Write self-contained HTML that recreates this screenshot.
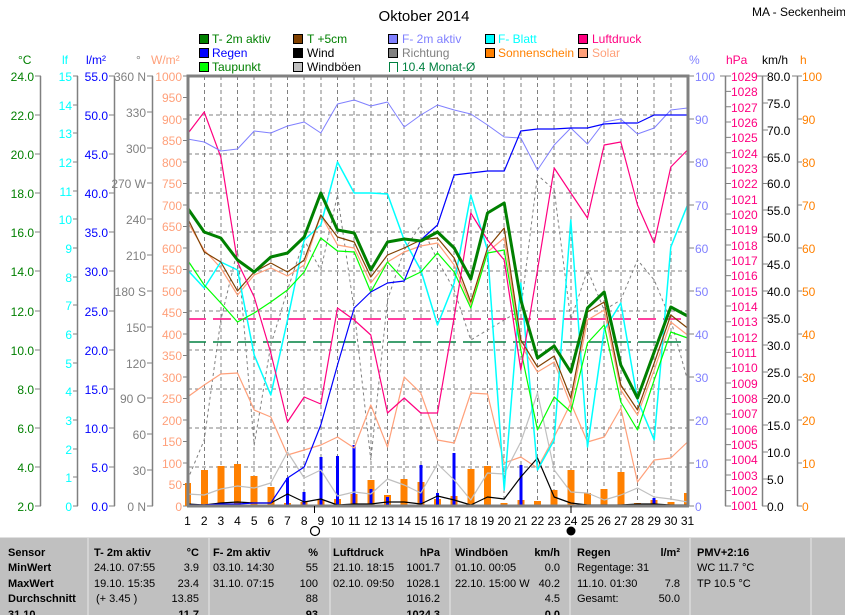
<!DOCTYPE html>
<html><head><meta charset="utf-8">
<style>
html,body{margin:0;padding:0;background:#fff;}
svg{display:block;font-family:"Liberation Sans",sans-serif;}
.tb{font-weight:bold;}
</style></head><body>
<svg width="845" height="615" viewBox="0 0 845 615" xmlns="http://www.w3.org/2000/svg">
<rect width="845" height="615" fill="#fff"/>
<text x="424" y="21" font-size="15" text-anchor="middle">Oktober 2014</text>
<text x="752" y="16" font-size="12">MA - Seckenheim</text>

<!-- legend -->
<g font-size="12">
<rect x="199.5" y="34.5" width="9" height="9" fill="#008000" stroke="#000"/><text x="212" y="43" fill="#008000">T- 2m aktiv</text>
<rect x="199.5" y="48.5" width="9" height="9" fill="#0000ff" stroke="#000"/><text x="212" y="57" fill="#0000ff">Regen</text>
<rect x="199.5" y="62.5" width="9" height="9" fill="#00ff00" stroke="#000"/><text x="212" y="71" fill="#008000">Taupunkt</text>
<rect x="293.5" y="34.5" width="9" height="9" fill="#804000" stroke="#000"/><text x="307" y="43" fill="#008000">T +5cm</text>
<rect x="293.5" y="48.5" width="9" height="9" fill="#000" stroke="#000"/><text x="307" y="57">Wind</text>
<rect x="293.5" y="62.5" width="9" height="9" fill="#c0c0c0" stroke="#000"/><text x="307" y="71">Windböen</text>
<rect x="388.5" y="34.5" width="9" height="9" fill="#8080ff" stroke="#000"/><text x="402" y="43" fill="#8080ff">F- 2m aktiv</text>
<rect x="388.5" y="48.5" width="9" height="9" fill="#808080" stroke="#000"/><text x="402" y="57" fill="#808080">Richtung</text>
<path d="M389.5 72V62.5H397.5V72" fill="none" stroke="#008040"/><text x="402" y="71" fill="#008040">10.4 Monat-Ø</text>
<rect x="485.5" y="34.5" width="9" height="9" fill="#00ffff" stroke="#000"/><text x="498" y="43" fill="#00ffff">F- Blatt</text>
<rect x="485.5" y="48.5" width="9" height="9" fill="#ff8000" stroke="#000"/><text x="498" y="57" fill="#ff8000">Sonnenschein</text>
<rect x="578.5" y="34.5" width="9" height="9" fill="#ff0080" stroke="#000"/><text x="592" y="43" fill="#ff0080">Luftdruck</text>
<rect x="578.5" y="48.5" width="9" height="9" fill="#ffa07a" stroke="#000"/><text x="592" y="57" fill="#ffa07a">Solar</text>
</g>

<!-- axis titles -->
<g font-size="12">
<text x="18" y="64" fill="#008000">°C</text>
<text x="62" y="64" fill="#00ffff">lf</text>
<text x="86" y="64" fill="#0000ff">l/m²</text>
<text x="136" y="64" fill="#808080">°</text>
<text x="151" y="64" fill="#ffa07a">W/m²</text>
<text x="689" y="64" fill="#8080ff">%</text>
<text x="726" y="64" fill="#ff0080">hPa</text>
<text x="762" y="64">km/h</text>
<text x="800" y="64" fill="#ff8000">h</text>
</g>

<!-- axis lines -->
<g stroke="#808080" stroke-width="1.5" fill="none">
<path d="M40.5 76V506M77.5 76V506M114.5 76V506M152.5 76V506M725.5 76V506M762.5 76V506M797.5 76V506"/>
</g>

<g font-size="12">
<g fill="#008000" text-anchor="end">
<text x="34" y="81">24.0</text><text x="34" y="120">22.0</text><text x="34" y="159">20.0</text><text x="34" y="198">18.0</text><text x="34" y="237">16.0</text><text x="34" y="276">14.0</text><text x="34" y="316">12.0</text><text x="34" y="355">10.0</text><text x="34" y="394">8.0</text><text x="34" y="433">6.0</text><text x="34" y="472">4.0</text><text x="34" y="511">2.0</text>
</g>
<path stroke="#808080" d="M35 76H41M35 115H41M35 154H41M35 193H41M35 232H41M35 271H41M35 311H41M35 350H41M35 389H41M35 428H41M35 467H41M35 506H41"/>
<g fill="#00ffff" text-anchor="end">
<text x="72" y="81">15</text><text x="72" y="110">14</text><text x="72" y="138">13</text><text x="72" y="167">12</text><text x="72" y="196">11</text><text x="72" y="224">10</text><text x="72" y="253">9</text><text x="72" y="282">8</text><text x="72" y="310">7</text><text x="72" y="339">6</text><text x="72" y="368">5</text><text x="72" y="396">4</text><text x="72" y="425">3</text><text x="72" y="454">2</text><text x="72" y="482">1</text><text x="72" y="511">0</text>
</g>
<path stroke="#808080" d="M73 76H78M73 105H78M73 133H78M73 162H78M73 191H78M73 219H78M73 248H78M73 277H78M73 305H78M73 334H78M73 363H78M73 391H78M73 420H78M73 449H78M73 477H78M73 506H78"/>
<g fill="#0000ff" text-anchor="end">
<text x="108" y="81">55.0</text><text x="108" y="120">50.0</text><text x="108" y="159">45.0</text><text x="108" y="198">40.0</text><text x="108" y="237">35.0</text><text x="108" y="276">30.0</text><text x="108" y="316">25.0</text><text x="108" y="355">20.0</text><text x="108" y="394">15.0</text><text x="108" y="433">10.0</text><text x="108" y="472">5.0</text><text x="108" y="511">0.0</text>
</g>
<path stroke="#808080" d="M109 76H115M109 115H115M109 154H115M109 193H115M109 232H115M109 271H115M109 311H115M109 350H115M109 389H115M109 428H115M109 467H115M109 506H115"/>
<g fill="#808080" text-anchor="end">
<text x="146" y="81">360 N</text><text x="146" y="117">330</text><text x="146" y="153">300</text><text x="146" y="188">270 W</text><text x="146" y="224">240</text><text x="146" y="260">210</text><text x="146" y="296">180 S</text><text x="146" y="332">150</text><text x="146" y="368">120</text><text x="146" y="403">90 O</text><text x="146" y="439">60</text><text x="146" y="475">30</text><text x="146" y="511">0 N</text>
</g>
<path stroke="#808080" d="M147 76H153M147 112H153M147 148H153M147 183H153M147 219H153M147 255H153M147 291H153M147 327H153M147 363H153M147 398H153M147 434H153M147 470H153M147 506H153"/>
<g fill="#ffa07a" text-anchor="end">
<text x="182" y="81">1000</text><text x="182" y="102">950</text><text x="182" y="124">900</text><text x="182" y="145">850</text><text x="182" y="167">800</text><text x="182" y="188">750</text><text x="182" y="210">700</text><text x="182" y="231">650</text><text x="182" y="253">600</text><text x="182" y="274">550</text><text x="182" y="296">500</text><text x="182" y="317">450</text><text x="182" y="339">400</text><text x="182" y="360">350</text><text x="182" y="382">300</text><text x="182" y="403">250</text><text x="182" y="425">200</text><text x="182" y="446">150</text><text x="182" y="468">100</text><text x="182" y="489">50</text><text x="182" y="511">0</text>
</g>
<path stroke="#808080" d="M183 76H188M183 97.5H188M183 119H188M183 140.5H188M183 162H188M183 183.5H188M183 205H188M183 226.5H188M183 248H188M183 269.5H188M183 291H188M183 312.5H188M183 334H188M183 355.5H188M183 377H188M183 398.5H188M183 420H188M183 441.5H188M183 463H188M183 484.5H188M183 506H188"/>
<g fill="#8080ff">
<text x="695" y="81">100</text><text x="695" y="124">90</text><text x="695" y="167">80</text><text x="695" y="210">70</text><text x="695" y="253">60</text><text x="695" y="296">50</text><text x="695" y="339">40</text><text x="695" y="382">30</text><text x="695" y="425">20</text><text x="695" y="468">10</text><text x="695" y="511">0</text>
</g>
<path stroke="#808080" d="M688 76H694M688 119H694M688 162H694M688 205H694M688 248H694M688 291H694M688 334H694M688 377H694M688 420H694M688 463H694M688 506H694"/>
<g fill="#ff0080">
<text x="731" y="81">1029</text><text x="731" y="96">1028</text><text x="731" y="112">1027</text><text x="731" y="127">1026</text><text x="731" y="142">1025</text><text x="731" y="158">1024</text><text x="731" y="173">1023</text><text x="731" y="188">1022</text><text x="731" y="204">1021</text><text x="731" y="219">1020</text><text x="731" y="234">1019</text><text x="731" y="250">1018</text><text x="731" y="265">1017</text><text x="731" y="280">1016</text><text x="731" y="296">1015</text><text x="731" y="311">1014</text><text x="731" y="326">1013</text><text x="731" y="342">1012</text><text x="731" y="357">1011</text><text x="731" y="372">1010</text><text x="731" y="388">1009</text><text x="731" y="403">1008</text><text x="731" y="418">1007</text><text x="731" y="434">1006</text><text x="731" y="449">1005</text><text x="731" y="464">1004</text><text x="731" y="480">1003</text><text x="731" y="495">1002</text><text x="731" y="510">1001</text>
</g>
<g fill="#000">
<text x="767" y="81">80.0</text><text x="767" y="108">75.0</text><text x="767" y="135">70.0</text><text x="767" y="162">65.0</text><text x="767" y="188">60.0</text><text x="767" y="215">55.0</text><text x="767" y="242">50.0</text><text x="767" y="269">45.0</text><text x="767" y="296">40.0</text><text x="767" y="323">35.0</text><text x="767" y="350">30.0</text><text x="767" y="377">25.0</text><text x="767" y="403">20.0</text><text x="767" y="430">15.0</text><text x="767" y="457">10.0</text><text x="767" y="484">5.0</text><text x="767" y="511">0.0</text>
</g>
<g fill="#ff8000">
<text x="802" y="81">100</text><text x="802" y="124">90</text><text x="802" y="167">80</text><text x="802" y="210">70</text><text x="802" y="253">60</text><text x="802" y="296">50</text><text x="802" y="339">40</text><text x="802" y="382">30</text><text x="802" y="425">20</text><text x="802" y="468">10</text><text x="802" y="511">0</text>
</g>
</g>
<path stroke="#808080" d="M720 76H731M725 91.4H731M725 106.7H731M725 122H731M725 137.4H731M725 152.8H731M725 168H731M725 183.5H731M725 199H731M725 214H731M725 229.6H731M725 245H731M725 260H731M725 275.6H731M725 291H731M725 306H731M725 321.7H731M725 337H731M725 352.4H731M725 368H731M725 383H731M725 398.5H731M725 414H731M725 429H731M725 444.6H731M725 460H731M725 475H731M725 490.6H731M725 506H731M757 76H768M762 103H768M762 130H768M762 157H768M762 183.5H768M762 210H768M762 237H768M762 264H768M762 291H768M762 318H768M762 345H768M762 372H768M762 398.5H768M762 425H768M762 452H768M762 479H768M762 506H768M792 76H802M797 119H802M797 162H802M797 205H802M797 248H802M797 291H802M797 334H802M797 377H802M797 420H802M797 463H802M797 506H802"/>

<!-- grid -->
<g stroke="#808080" stroke-dasharray="4,3" stroke-width="1">
<path d="M188 115H688M188 154H688M188 193H688M188 232H688M188 271H688M188 311H688M188 350H688M188 389H688M188 428H688M188 467H688"/>
<path d="M204.5 76V506M221 76V506M237.5 76V506M254 76V506M271 76V506M287.5 76V506M304 76V506M321 76V506M337.5 76V506M354 76V506M371 76V506M387.5 76V506M404 76V506M421 76V506M437.5 76V506M454 76V506M471 76V506M487.5 76V506M504 76V506M521 76V506M537.5 76V506M554 76V506M571 76V506M587.5 76V506M604 76V506M621 76V506M637.5 76V506M654 76V506M671 76V506"/>
</g>

<path d="M188 319H688" stroke="#ff0080" stroke-width="1.5" stroke-dasharray="18,7"/>
<path d="M188 342H688" stroke="#008040" stroke-width="1.5" stroke-dasharray="18,7"/>

<g fill="#ff8000">
<rect x="185" y="483" width="6" height="23"/><rect x="201" y="470" width="7" height="36"/><rect x="217.5" y="466" width="7" height="40"/><rect x="234" y="464" width="7" height="42"/><rect x="250.5" y="476" width="7" height="30"/><rect x="267.5" y="487" width="7" height="19"/><rect x="284" y="503" width="7" height="3"/><rect x="300.5" y="502" width="7" height="4"/><rect x="317.5" y="500" width="7" height="6"/><rect x="334" y="499" width="7" height="7"/><rect x="350.5" y="494" width="7" height="12"/><rect x="367.5" y="480" width="7" height="26"/><rect x="384" y="495" width="7" height="11"/><rect x="400.5" y="479" width="7" height="27"/><rect x="417.5" y="482" width="7" height="24"/><rect x="434" y="499" width="7" height="7"/><rect x="450.5" y="496" width="7" height="10"/><rect x="467.5" y="469" width="7" height="37"/><rect x="484" y="466" width="7" height="40"/><rect x="500.5" y="503" width="7" height="3"/><rect x="517.5" y="500" width="7" height="6"/><rect x="534" y="501" width="7" height="5"/><rect x="550.5" y="490" width="7" height="16"/><rect x="567.5" y="470" width="7" height="36"/><rect x="584" y="493" width="7" height="13"/><rect x="600.5" y="489" width="7" height="17"/><rect x="617.5" y="472" width="7" height="34"/><rect x="634" y="503" width="7" height="3"/><rect x="650.5" y="500" width="7" height="6"/><rect x="667.5" y="502" width="7" height="4"/><rect x="684" y="493" width="5" height="13"/>
</g>
<g fill="#0000ff">
<rect x="286" y="478" width="3" height="28"/><rect x="302.5" y="492" width="3" height="14"/><rect x="319.5" y="457" width="3" height="49"/><rect x="336" y="456" width="3" height="50"/><rect x="352.5" y="445" width="3" height="61"/><rect x="369.5" y="489" width="3" height="17"/><rect x="386" y="497" width="3" height="9"/><rect x="419.5" y="465" width="3" height="41"/><rect x="436" y="493" width="3" height="13"/><rect x="452.5" y="453" width="3" height="53"/><rect x="519.5" y="465" width="3" height="41"/><rect x="652.5" y="498" width="3" height="8"/>
</g>

<g fill="none" stroke-linejoin="round">
<polyline stroke="#808080" stroke-dasharray="3,3" points="187.5,480 204.2,440 220.8,320 237.5,250 254.2,445 270.8,345 287.5,290 304.2,240 320.8,270 337.5,195 354.2,310 370.8,460 387.5,300 404.2,250 420.8,225 437.5,260 454.2,290 470.8,340 487.5,330 504.2,320 520.8,310 537.5,175 554.2,190 570.8,320 587.5,270 604.2,310 620.8,300 637.5,260 654.2,280 670.8,320 687.5,380"/>
<polyline stroke="#ffa07a" stroke-width="1.2" points="187.5,397 204.2,385 220.8,374 237.5,373 254.2,410 270.8,417 287.5,455 304.2,450 320.8,445 337.5,437 354.2,448 370.8,405 387.5,447 404.2,377 420.8,393 437.5,440 454.2,443 470.8,393 487.5,394 504.2,463 520.8,457 537.5,468 554.2,437 570.8,403 587.5,442 604.2,437 620.8,408 637.5,482 654.2,460 670.8,458 687.5,442"/>
<polyline stroke="#ffa07a" stroke-width="1.2" points="187.5,222 204.2,250 220.8,268 237.5,295 254.2,275 270.8,268 287.5,276 304.2,265 320.8,215 337.5,245 354.2,248 370.8,283 387.5,262 404.2,252 420.8,246 437.5,243 454.2,265 470.8,305 487.5,252 504.2,238 520.8,345 537.5,372 554.2,362 570.8,405 587.5,320 604.2,310 620.8,390 637.5,415 654.2,370 670.8,322 687.5,335"/>
<polyline stroke="#c0c0c0" stroke-width="1.2" points="187.5,494 204.2,495 220.8,489 237.5,486 254.2,488 270.8,483 287.5,452 304.2,478 320.8,470 337.5,496 354.2,492 370.8,494 387.5,479 404.2,485 420.8,493 437.5,464 454.2,480 470.8,500 487.5,473 504.2,474 520.8,442 537.5,393 554.2,470 570.8,492 587.5,493 604.2,500 620.8,495 637.5,488 654.2,497 670.8,499 687.5,502"/>
<polyline stroke="#000" stroke-width="1.2" points="187.5,504 204.2,505 220.8,503 237.5,502 254.2,503 270.8,503 287.5,494 304.2,502 320.8,499 337.5,505 354.2,504 370.8,504 387.5,502 404.2,502 420.8,504 437.5,496 454.2,500 470.8,505 487.5,497 504.2,499 520.8,477 537.5,458 554.2,497 570.8,503 587.5,505 604.2,505 620.8,505 637.5,504 654.2,504 670.8,505 687.5,505"/>
<polyline stroke="#00ffff" stroke-width="1.5" points="187.5,270 204.2,288 220.8,262 237.5,270 254.2,355 270.8,395 287.5,320 304.2,240 320.8,225 337.5,162 354.2,193 370.8,193 387.5,194 404.2,240 420.8,270 437.5,325 454.2,283 470.8,195 487.5,250 504.2,490 520.8,283 537.5,470 554.2,440 570.8,220 587.5,447 604.2,330 620.8,303 637.5,400 654.2,440 670.8,247 687.5,205"/>
<polyline stroke="#00ff00" stroke-width="1.2" points="187.5,260 204.2,285 220.8,303 237.5,322 254.2,313 270.8,302 287.5,290 304.2,272 320.8,238 337.5,251 354.2,252 370.8,292 387.5,262 404.2,280 420.8,272 437.5,253 454.2,272 470.8,308 487.5,253 504.2,250 520.8,350 537.5,430 554.2,397 570.8,412 587.5,343 604.2,325 620.8,402 637.5,430 654.2,380 670.8,332 687.5,338"/>
<polyline stroke="#804000" stroke-width="1.2" points="187.5,218 204.2,252 220.8,262 237.5,291 254.2,272 270.8,263 287.5,272 304.2,260 320.8,215 337.5,237 354.2,242 370.8,277 387.5,255 404.2,248 420.8,240 437.5,238 454.2,258 470.8,302 487.5,248 504.2,228 520.8,340 537.5,367 554.2,356 570.8,398 587.5,312 604.2,302 620.8,385 637.5,410 654.2,363 670.8,315 687.5,328"/>
<polyline stroke="#ff0080" stroke-width="1.2" points="187.5,134 204.2,112 220.8,157 237.5,262 254.2,297 270.8,353 287.5,422 304.2,397 320.8,404 337.5,308 354.2,320 370.8,335 387.5,413 404.2,398 420.8,413 437.5,413 454.2,317 470.8,213 487.5,240 504.2,260 520.8,370 537.5,270 554.2,168 570.8,193 587.5,218 604.2,145 620.8,142 637.5,205 654.2,243 670.8,167 687.5,150"/>
<polyline stroke="#8080ff" stroke-width="1" points="187.5,139 204.2,142 220.8,151 237.5,149 254.2,131 270.8,133 287.5,126 304.2,122 320.8,133 337.5,104 354.2,100 370.8,106 387.5,102 404.2,127 420.8,115 437.5,105 454.2,110 470.8,114 487.5,125 504.2,137 520.8,138 537.5,170 554.2,145 570.8,128 587.5,144 604.2,122 620.8,119 637.5,134 654.2,128 670.8,110 687.5,108"/>
<polyline stroke="#0000ff" stroke-width="1.2" points="187.5,505 204.2,505 220.8,504 237.5,504 254.2,503 270.8,503 287.5,478 304.2,467 320.8,425 337.5,365 354.2,308 370.8,292 387.5,283 404.2,281 420.8,240 437.5,225 454.2,175 470.8,173 487.5,171 504.2,171 520.8,131 537.5,129 554.2,129 570.8,128 587.5,128 604.2,124 620.8,123 637.5,123 654.2,115 670.8,115 687.5,115"/>
<polyline stroke="#008000" stroke-width="3" points="187.5,208 204.2,232 220.8,238 237.5,260 254.2,272 270.8,257 287.5,253 304.2,237 320.8,193 337.5,230 354.2,233 370.8,270 387.5,242 404.2,239 420.8,241 437.5,232 454.2,248 470.8,279 487.5,213 504.2,203 520.8,300 537.5,358 554.2,346 570.8,372 587.5,308 604.2,292 620.8,365 637.5,398 654.2,352 670.8,307 687.5,316"/>
</g>

<path d="M188 506V76H688V506" fill="none" stroke="#808080" stroke-width="3"/>
<path d="M187 506H689" stroke="#808080" stroke-width="3"/>

<g font-size="12" text-anchor="middle">
<text x="187.5" y="525">1</text><text x="204.2" y="525">2</text><text x="220.8" y="525">3</text><text x="237.5" y="525">4</text><text x="254.2" y="525">5</text><text x="270.8" y="525">6</text><text x="287.5" y="525">7</text><text x="304.2" y="525">8</text><text x="320.8" y="525">9</text><text x="337.5" y="525">10</text><text x="354.2" y="525">11</text><text x="370.8" y="525">12</text><text x="387.5" y="525">13</text><text x="404.2" y="525">14</text><text x="420.8" y="525">15</text><text x="437.5" y="525">16</text><text x="454.2" y="525">17</text><text x="470.8" y="525">18</text><text x="487.5" y="525">19</text><text x="504.2" y="525">20</text><text x="520.8" y="525">21</text><text x="537.5" y="525">22</text><text x="554.2" y="525">23</text><text x="570.8" y="525">24</text><text x="587.5" y="525">25</text><text x="604.2" y="525">26</text><text x="620.8" y="525">27</text><text x="637.5" y="525">28</text><text x="654.2" y="525">29</text><text x="670.8" y="525">30</text><text x="687.5" y="525">31</text>
</g>
<path d="M314.5 506V513M571 506V513" stroke="#000"/>
<circle cx="315" cy="531" r="4.5" fill="#fff" stroke="#000" stroke-width="1.2"/>
<circle cx="571" cy="531" r="4.5" fill="#000"/>

<rect x="0" y="537" width="845" height="78" fill="#c0c0c0"/>
<path d="M0 537.5H845" stroke="#e0e0e0"/>
<path d="M88 538V615M209 538V615M330 538V615M450 538V615M570 538V615M690 538V615M811 538V615" stroke="#e8e8e8"/>
<g font-size="11">
<text class="tb" x="8" y="556">Sensor</text><text class="tb" x="8" y="571">MinWert</text><text class="tb" x="8" y="587">MaxWert</text><text class="tb" x="8" y="602">Durchschnitt</text><text class="tb" x="8" y="618">31.10.</text>
<text class="tb" x="94" y="556">T- 2m aktiv</text><text class="tb" x="199" y="556" text-anchor="end">°C</text>
<text x="94" y="571">24.10.  07:55</text><text x="199" y="571" text-anchor="end">3.9</text>
<text x="94" y="587">19.10.  15:35</text><text x="199" y="587" text-anchor="end">23.4</text>
<text x="96" y="602">(+ 3.45 )</text><text x="199" y="602" text-anchor="end">13.85</text>
<text class="tb" x="199" y="618" text-anchor="end">11.7</text>
<text class="tb" x="213" y="556">F- 2m aktiv</text><text class="tb" x="318" y="556" text-anchor="end">%</text>
<text x="213" y="571">03.10.  14:30</text><text x="318" y="571" text-anchor="end">55</text>
<text x="213" y="587">31.10.  07:15</text><text x="318" y="587" text-anchor="end">100</text>
<text x="318" y="602" text-anchor="end">88</text><text class="tb" x="318" y="618" text-anchor="end">93</text>
<text class="tb" x="333" y="556">Luftdruck</text><text class="tb" x="440" y="556" text-anchor="end">hPa</text>
<text x="333" y="571">21.10.  18:15</text><text x="440" y="571" text-anchor="end">1001.7</text>
<text x="333" y="587">02.10.  09:50</text><text x="440" y="587" text-anchor="end">1028.1</text>
<text x="440" y="602" text-anchor="end">1016.2</text><text class="tb" x="440" y="618" text-anchor="end">1024.3</text>
<text class="tb" x="455" y="556">Windböen</text><text class="tb" x="560" y="556" text-anchor="end">km/h</text>
<text x="455" y="571">01.10.  00:05</text><text x="560" y="571" text-anchor="end">0.0</text>
<text x="455" y="587">22.10.  15:00 W</text><text x="560" y="587" text-anchor="end">40.2</text>
<text x="560" y="602" text-anchor="end">4.5</text><text class="tb" x="560" y="618" text-anchor="end">0.0</text>
<text class="tb" x="577" y="556">Regen</text><text class="tb" x="680" y="556" text-anchor="end">l/m²</text>
<text x="577" y="571">Regentage: 31</text>
<text x="577" y="587">11.10.  01:30</text><text x="680" y="587" text-anchor="end">7.8</text>
<text x="577" y="602">Gesamt:</text><text x="680" y="602" text-anchor="end">50.0</text>
<text class="tb" x="697" y="556">PMV+2:16</text>
<text x="697" y="571">WC 11.7 °C</text>
<text x="697" y="587">TP 10.5 °C</text>
</g>
</svg>
</body></html>
